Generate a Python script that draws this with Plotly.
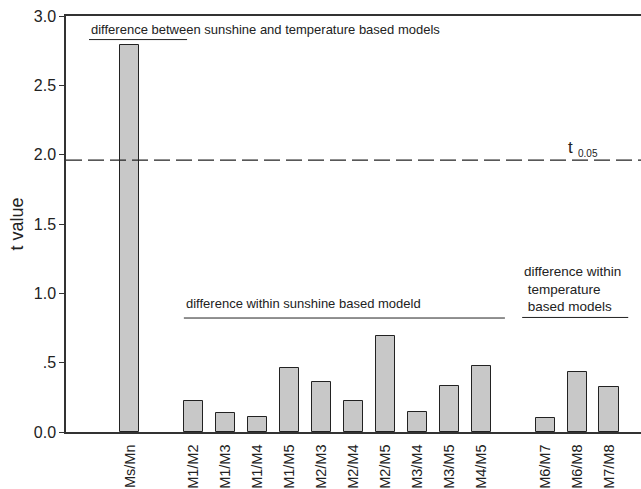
import plotly.graph_objects as go

# ---- data ----
between_labels = ["Ms/Mn"]
between_values = [2.79]

sunshine_labels = ["M1/M2", "M1/M3", "M1/M4", "M1/M5", "M2/M3",
                   "M2/M4", "M2/M5", "M3/M4", "M3/M5", "M4/M5"]
sunshine_values = [0.22, 0.14, 0.105, 0.465, 0.36, 0.22, 0.69, 0.145, 0.335, 0.475]

temperature_labels = ["M6/M7", "M6/M8", "M7/M8"]
temperature_values = [0.10, 0.43, 0.325]

t_critical = 1.96

y_tickvals = [0, 0.5, 1.0, 1.5, 2.0, 2.5, 3.0]
y_ticktext = ["0.0", ".5", "1.0", "1.5", "2.0", "2.5", "3.0"]

# ---- build slot positions: groups separated by one empty slot ----
groups = [(between_labels, between_values),
          (sunshine_labels, sunshine_values),
          (temperature_labels, temperature_values)]
xs, labels, values = [], [], []
pos = 2
for glabels, gvalues in groups:
    for lab, val in zip(glabels, gvalues):
        xs.append(pos)
        labels.append(lab)
        values.append(val)
        pos += 1
    pos += 1
x_max = pos - 1  # right end of axis range

FONT = "Liberation Sans, Arial, sans-serif"
INK = "#222222"

fig = go.Figure()
fig.add_trace(go.Bar(
    x=xs, y=values, width=0.6,
    marker=dict(color="#c8c8c8", line=dict(color=INK, width=1)),
    showlegend=False, hoverinfo="skip",
))

# critical t line
fig.add_shape(type="line", xref="x", yref="y", x0=0, x1=x_max,
              y0=t_critical, y1=t_critical,
              line=dict(color=INK, width=1.2, dash="16px,6px"))

# group underlines
fig.add_shape(type="line", xref="x", yref="y", x0=0.72, x1=3.79, y0=2.83, y1=2.83,
              line=dict(color=INK, width=1))
fig.add_shape(type="line", xref="x", yref="y", x0=3.69, x1=13.74, y0=0.822, y1=0.822,
              line=dict(color=INK, width=1))
fig.add_shape(type="line", xref="x", yref="y", x0=14.28, x1=17.6, y0=0.826, y1=0.826,
              line=dict(color=INK, width=1))

ann_font = dict(family=FONT, size=13, color=INK)
fig.add_annotation(x=0.72, y=2.905, xref="x", yref="y", xanchor="left", yanchor="middle",
                   text="difference between sunshine and temperature based models",
                   showarrow=False, font=ann_font)
fig.add_annotation(x=3.69, y=0.93, xref="x", yref="y", xanchor="left", yanchor="middle",
                   text="difference within sunshine based modeld",
                   showarrow=False, font=ann_font)
fig.add_annotation(x=14.28, y=1.031, xref="x", yref="y", xanchor="left", yanchor="middle",
                   text="difference within<br>\u00a0temperature<br>\u00a0based models",
                   align="left", showarrow=False,
                   font=dict(family=FONT, size=13.5, color=INK))

# t 0.05 label
fig.add_annotation(x=15.66, y=2.05, xref="x", yref="y", xanchor="left", yanchor="middle",
                   text="t", showarrow=False,
                   font=dict(family=FONT, size=17, color=INK))
fig.add_annotation(x=15.97, y=2.012, xref="x", yref="y", xanchor="left", yanchor="middle",
                   text="0.05", showarrow=False,
                   font=dict(family=FONT, size=10, color=INK))

fig.update_layout(
    width=641, height=489,
    margin=dict(l=66, r=0, t=16, b=57),
    paper_bgcolor="white", plot_bgcolor="white",
    font=dict(family=FONT, color=INK),
    bargap=0,
    xaxis=dict(range=[0, x_max], tickmode="array", tickvals=xs, ticktext=labels,
               tickangle=-90, ticks="outside", ticklen=5, tickcolor="rgba(0,0,0,0)",
               tickfont=dict(family=FONT, size=14.5, color=INK), automargin=False,
               showline=True, linecolor="#333333", linewidth=1.5, mirror=True,
               showgrid=False, zeroline=False, fixedrange=True),
    yaxis=dict(range=[0, 3], tickmode="array", tickvals=y_tickvals, ticktext=y_ticktext,
               ticks="outside", ticklen=5, tickwidth=1, tickcolor="#333333",
               tickfont=dict(family=FONT, size=16, color=INK), automargin=False,
               showline=True, linecolor="#333333", linewidth=1.5,
               showgrid=False, zeroline=False,
               title=dict(text="t value", font=dict(family=FONT, size=18, color=INK),
                          standoff=5)),
)

fig.write_html("out.html")
